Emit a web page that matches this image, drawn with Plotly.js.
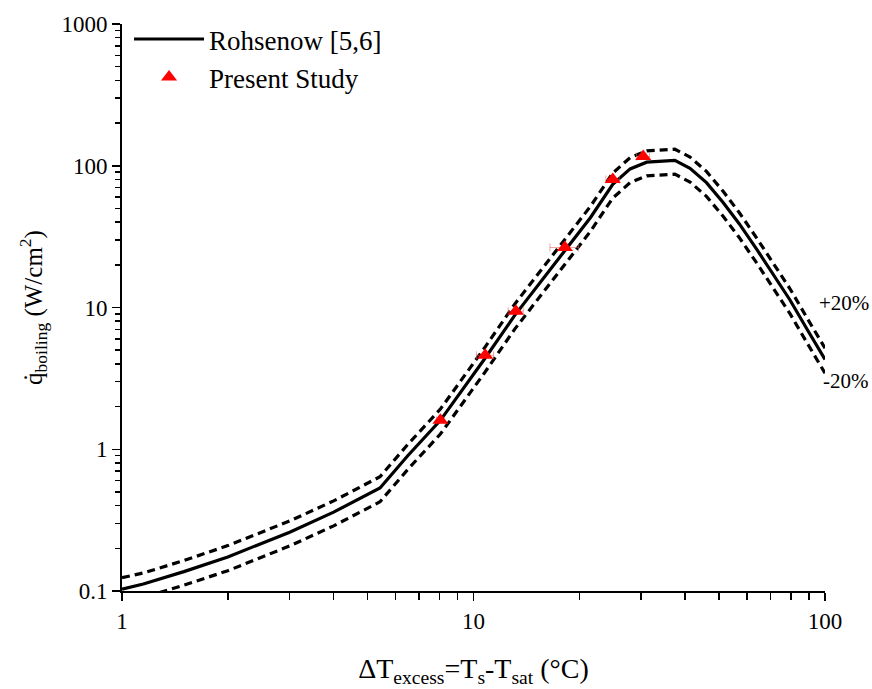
<!DOCTYPE html>
<html>
<head>
<meta charset="utf-8">
<script src="https://cdn.plot.ly/plotly-3.0.1.min.js"></script>
<style>html,body{margin:0;padding:0;background:#fff;}#chart{width:872px;height:689px;}</style>
</head>
<body>
<div id="chart"></div>
<script>
// Rohsenow correlation curve
const rohX = [1, 1.15, 1.5, 2, 3, 4, 5.42, 6.5, 8.05, 10.8, 13.1, 18.2, 21.5, 24.9, 27.9, 31.1, 37.4, 41.3, 46, 51.3, 57, 64.1, 71.5, 79.5, 89, 100];
const rohY = [0.103, 0.112, 0.137, 0.174, 0.26, 0.36, 0.533, 0.90, 1.6, 4.4, 8.8, 25, 43, 74, 95, 106, 109, 96, 76, 55, 39, 25.5, 17, 11.3, 7.0, 4.3];
// +20% and -20% bounds
const upperY = [0.124, 0.134, 0.164, 0.209, 0.312, 0.432, 0.64, 1.08, 1.92, 5.28, 10.56, 30, 51.6, 88.8, 114, 127.2, 130.8, 115.2, 91.2, 66, 46.8, 30.6, 20.4, 13.56, 8.4, 5.16];
const lowerY = [0.082, 0.09, 0.110, 0.139, 0.208, 0.288, 0.426, 0.72, 1.28, 3.52, 7.04, 20, 34.4, 59.2, 76, 84.8, 87.2, 76.8, 60.8, 44, 31.2, 20.4, 13.6, 9.04, 5.6, 3.44];
// Present study measurements
const studyX = [8.05, 10.8, 13.2, 18.2, 24.9, 30.4];
const studyY = [1.6, 4.6, 9.4, 26.5, 80, 116];
const studyErrX = [0.2, 0.6, 0.65, 1.7, 1.1, 1.3];

const yMajor = [0.1, 1, 10, 100, 1000];
const yMajorText = ['0.1', '1', '10', '100', '1000'];
const xMajor = [1, 10, 100];
const xMajorText = ['1', '10', '100'];

function minorTicks(lo, hi) {
  const out = [];
  for (let d = lo; d < hi; d *= 10) for (let k = 2; k <= 9; k++) out.push(+(k * d).toPrecision(3));
  return out;
}

const font = 'Liberation Serif, Times New Roman, serif';
const dashStyle = '8px,5px';

const traces = [
  {x: rohX, y: upperY, mode: 'lines', line: {color: '#000', width: 3.2, dash: dashStyle}, showlegend: false, hoverinfo: 'skip'},
  {x: rohX, y: lowerY, mode: 'lines', line: {color: '#000', width: 3.2, dash: dashStyle}, showlegend: false, hoverinfo: 'skip'},
  {x: rohX, y: rohY, mode: 'lines', name: 'Rohsenow [5,6]', line: {color: '#000', width: 3.2}},
  {x: studyX, y: studyY, mode: 'markers', name: 'Present Study',
   marker: {symbol: 'triangle-up', size: 14, color: '#ff0000'},
   error_x: {type: 'data', array: studyErrX, visible: true, color: 'rgba(230,90,90,0.55)', thickness: 1, width: 4}}
];

const axisCommon = {
  type: 'log', showgrid: false, zeroline: false, showline: true, linecolor: '#000', linewidth: 2,
  ticks: 'outside', ticklen: 8, tickwidth: 1.5, tickcolor: '#000',
  tickfont: {family: font, size: 23, color: '#000'}, mirror: false
};

const layout = {
  width: 872, height: 689,
  margin: {l: 122, r: 47, t: 24, b: 98, autoexpand: false},
  paper_bgcolor: '#fff', plot_bgcolor: '#fff',
  font: {family: font, color: '#000'},
  xaxis: Object.assign({}, axisCommon, {
    range: [0, 2], tickmode: 'array', tickvals: xMajor, ticktext: xMajorText, automargin: false,
    minor: {tickmode: 'array', tickvals: minorTicks(1, 100), ticks: 'outside', ticklen: 7, tickwidth: 1.5, tickcolor: '#000'},
    title: {text: 'ΔT<sub>excess</sub>=T<sub>s</sub>-T<sub>sat</sub> (°C)', font: {family: font, size: 28, color: '#000'}, standoff: 26}
  }),
  yaxis: Object.assign({}, axisCommon, {
    range: [-1, 3], tickmode: 'array', tickvals: yMajor, ticktext: yMajorText, automargin: false,
    minor: {tickmode: 'array', tickvals: minorTicks(0.1, 1000), ticks: 'outside', ticklen: 5, tickwidth: 1.5, tickcolor: '#000'},
    title: {text: 'q\u0307<sub>boiling</sub> (W/cm<sup>2</sup>)', font: {family: font, size: 25, color: '#000'}, standoff: 12}
  }),
  legend: {x: 0.01, y: 1.016, xanchor: 'left', yanchor: 'top', bgcolor: 'rgba(0,0,0,0)',
           font: {family: font, size: 27, color: '#000'}, tracegroupgap: 0, itemwidth: 70},
  annotations: [
    {xref: 'paper', yref: 'paper', x: 1.066, y: 0.508, xanchor: 'right', yanchor: 'middle', showarrow: false,
     text: '+20%', font: {family: font, size: 21, color: '#000'}},
    {xref: 'paper', yref: 'paper', x: 1.066, y: 0.37, xanchor: 'right', yanchor: 'middle', showarrow: false,
     text: '-20%', font: {family: font, size: 21, color: '#000'}}
  ],
  showlegend: true
};

Plotly.newPlot('chart', traces, layout, {displayModeBar: false, staticPlot: true});
</script>
</body>
</html>
